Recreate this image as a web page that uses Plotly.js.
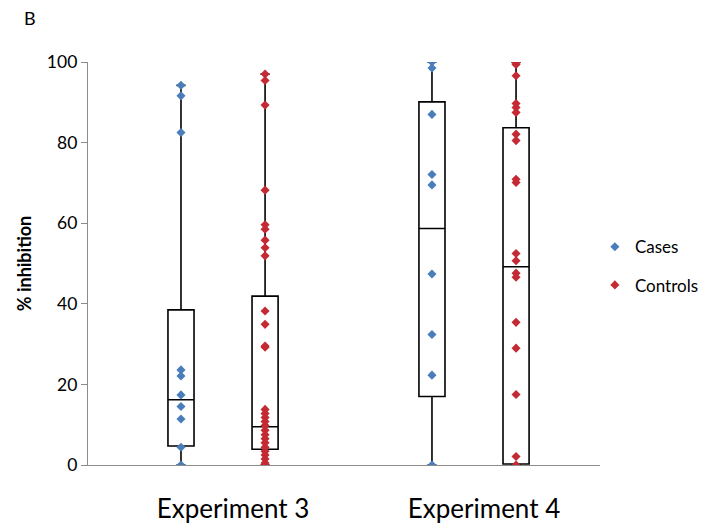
<!DOCTYPE html>
<html>
<head>
<meta charset="utf-8">
<script src="https://cdn.plot.ly/plotly-3.0.1.min.js"></script>
<style>html,body{margin:0;padding:0;background:#fff;}#chart{width:716px;height:530px;}</style>
</head>
<body>
<div id="chart"></div>
<script>
// ---- data ----
var categories = ['Experiment 3', 'Experiment 4'];
var seriesNames = ['Cases', 'Controls'];

var casesExp3 = [94.2, 91.6, 82.5, 23.6, 22.1, 17.4, 14.5, 11.4, 4.4, 0];
var casesExp4 = [100, 98.5, 87, 72.1, 69.5, 47.4, 32.4, 22.3, 0];
var controlsExp3 = [97, 95.4, 89.3, 68.2, 59.6, 58.5, 55.8, 53.9, 51.9, 38.2, 34.9, 29.5, 29.2,
                    13.8, 12.8, 11.8, 10.8, 9.8, 8.6, 7.5, 6.5, 5.5, 4.4, 3.4, 2.5, 1.5, 0.5, 0];
var controlsExp4 = [99.9, 99.4, 96.6, 89.7, 88.7, 87.5, 82.1, 80.5, 70.9, 70.1, 52.5, 50.7,
                    47.6, 46.6, 35.4, 29, 17.5, 2.1, 0];

var casesQ1 = [4.7, 17];
var casesMedian = [16.2, 58.7];
var casesQ3 = [38.5, 90.1];
var casesLow = [0, 0];
var casesHigh = [94.2, 100];

var controlsQ1 = [3.9, 0.25];
var controlsMedian = [9.5, 49.2];
var controlsQ3 = [41.9, 83.7];
var controlsLow = [0, 0];
var controlsHigh = [97, 99.9];

var yTickVals = [0, 20, 40, 60, 80, 100];

// ---- styles ----
var blue = '#4A7EBB';
var red = '#C42A33';
var font = 'Lato, Carlito, Calibri, "Open Sans", sans-serif';

function boxTrace(name, pts, q1, med, q3, lo, hi, color) {
  return {
    type: 'box', name: name, x: categories, y: pts,
    q1: q1, median: med, q3: q3, lowerfence: lo, upperfence: hi,
    boxpoints: 'all', jitter: 0, pointpos: 0,
    line: {color: '#000', width: 1.6},
    fillcolor: 'rgba(255,255,255,0)',
    whiskerwidth: 0.35,
    marker: {symbol: 'diamond', size: 7, color: color, line: {width: 0}},
    showlegend: false, hoverinfo: 'skip'
  };
}

var data = [
  boxTrace(seriesNames[0], [casesExp3, casesExp4], casesQ1, casesMedian, casesQ3, casesLow, casesHigh, blue),
  boxTrace(seriesNames[1], [controlsExp3, controlsExp4], controlsQ1, controlsMedian, controlsQ3, controlsLow, controlsHigh, red),
  {type: 'scatter', mode: 'markers', name: seriesNames[0], x: [null], y: [null], legendgroup: 'a',
   marker: {symbol: 'diamond', size: 7, color: blue}},
  {type: 'scatter', mode: 'markers', name: seriesNames[1], x: [null], y: [null], legendgroup: 'b',
   marker: {symbol: 'diamond', size: 7, color: red}}
];

var layout = {
  width: 716, height: 530,
  margin: {l: 88, r: 116, t: 62, b: 65},
  paper_bgcolor: '#fff', plot_bgcolor: '#fff',
  font: {family: font, color: '#000'},
  boxmode: 'group', boxgap: 0.33, boxgroupgap: 0.69,
  xaxis: {
    type: 'category', range: [-0.538, 1.502],
    showline: true, linecolor: '#8c8c8c', linewidth: 1.2,
    ticks: '', showgrid: false, zeroline: false,
    tickfont: {size: 26, family: font},
    ticklabelstandoff: 21, ticklabelshift: 10
  },
  yaxis: {
    range: [0, 100], tickvals: yTickVals,
    showline: true, linecolor: '#8c8c8c', linewidth: 1.2,
    ticks: 'outside', ticklen: 6, tickcolor: '#8c8c8c',
    showgrid: false, zeroline: false,
    tickfont: {size: 17.5, family: font},
    title: {text: '% inhibition', font: {size: 18, family: font, weight: 'bold'}, standoff: 10}
  },
  showlegend: true,
  legend: {x: 0.99, xanchor: 'left', y: 0.585, yanchor: 'top',
           font: {size: 17, family: font}, traceorder: 'grouped', tracegroupgap: 13,
           bgcolor: 'rgba(0,0,0,0)'},
  annotations: [{text: 'B', xref: 'paper', yref: 'paper', x: -0.128, y: 1.11,
                 xanchor: 'left', yanchor: 'middle', showarrow: false,
                 font: {size: 18, family: font}}]
};

Plotly.newPlot('chart', data, layout, {displayModeBar: false, staticPlot: true});
</script>
</body>
</html>
